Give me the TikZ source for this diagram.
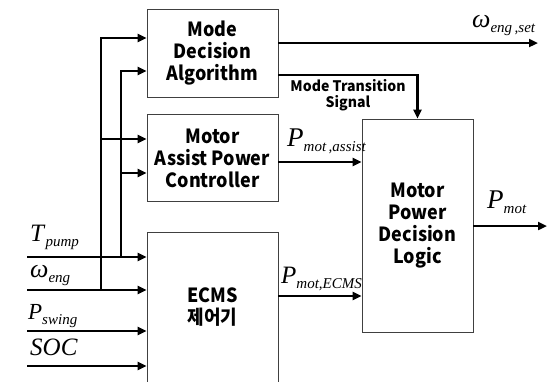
\documentclass[tikz,border=0pt]{standalone}
\usepackage{fontspec}
\setmainfont{Liberation Serif}
\newfontfamily\kr{Noto Sans CJK KR}[FakeStretch=0.92]
\newfontfamily\krs{Noto Sans CJK KR}[FakeStretch=0.97]
\usetikzlibrary{arrows.meta,calc}
\newcommand\vlab[3]{{\fontsize{#3}{#3}\selectfont\textit{#1}}\raisebox{-5.5pt}{\fontsize{15}{15}\selectfont\textit{#2}}}
\begin{document}
\begin{tikzpicture}[x=1pt,y=-1pt,
  box/.style={draw=black!75, line width=0.8pt, inner sep=0pt, align=center,
    font=\kr\bfseries\fontsize{19.5}{22}\selectfont},
  sig/.style={line width=2.3pt, -{Triangle[length=9pt,width=8pt]}},
  lab/.style={anchor=base west, inner sep=0pt},
  small/.style={inner sep=0pt, align=center, font=\krs\bfseries\fontsize{14.5}{16}\selectfont}]
\useasboundingbox (0,0) rectangle (547,381);
% boxes
\node[box, minimum width=131, minimum height=88] (mode) at (212.5,53) {Mode\\Decision\\Algorithm};
\node[box, minimum width=131, minimum height=87] (assist) at (212.5,158) {Motor\\Assist Power\\Controller};
\node[box, minimum width=131, minimum height=150] (ecms) at (212.5,307) {ECMS\\제어기};
\node[box, minimum width=111, minimum height=213] (mpdl) at (417.5,225.5) {Motor\\Power\\Decision\\Logic};
% coordinates
\coordinate (iT) at (27,257);
\coordinate (iW) at (27,290);
\coordinate (iP) at (27,331);
\coordinate (iS) at (27,366);
\coordinate (bW) at (101,290);
\coordinate (bT) at (121,257);
\coordinate (m1) at (101,38);
\coordinate (m2) at (121,71);
\coordinate (a1) at (101,139);
\coordinate (a2) at (121,173);
\coordinate (oW) at (538,43);
\coordinate (mt) at (278,75);
\coordinate (pa) at (278,162);
\coordinate (pe) at (278,296);
\coordinate (oP) at (547,226);
% inputs
\draw[sig] (iT) -- (iT -| ecms.west);
\draw[sig] (iW) -- (iW -| ecms.west);
\draw[sig] (iP) -- (iP -| ecms.west);
\draw[sig] (iS) -- (iS -| ecms.west);
% buses
\draw[sig] (bW) -- (m1) -- (m1 -| mode.west);
\draw[sig] (bT) -- (m2) -- (m2 -| mode.west);
\draw[sig] (a1) -- (a1 -| assist.west);
\draw[sig] (a2) -- (a2 -| assist.west);
% outputs
\draw[sig] (mode.east |- oW) -- (oW);
\draw[sig] (mode.east |- mt) -| (mpdl.north);
\draw[sig] (assist.east |- pa) -- (mpdl.west |- pa);
\draw[sig] (ecms.east |- pe) -- (mpdl.west |- pe);
\draw[sig] (mpdl.east |- oP) -- (oP);
% labels
\node[lab] (lT) at (30,241) {\vlab{T}{pump}{25}};
\node[lab] (lW) at (30,277) {\vlab{ω}{eng}{26}};
\node[lab] (lP) at (28,319) {\vlab{P}{swing}{23}};
\node[lab] (lS) at (30,355) {{\fontsize{25}{25}\selectfont\textit{SOC}}};
\node[lab] (lO) at (472,27) {\vlab{ω}{eng\,,set}{26}};
\node[lab] (lA) at (287,146) {\vlab{P}{mot\,,assist}{27}};
\node[lab] (lE) at (281,283) {\vlab{P}{mot,ECMS}{25}};
\node[lab] (lM) at (487,208) {\vlab{P}{mot}{27}};
\node[small] (lMT) at (348,95) {Mode Transition\\Signal};
\end{tikzpicture}
\end{document}
